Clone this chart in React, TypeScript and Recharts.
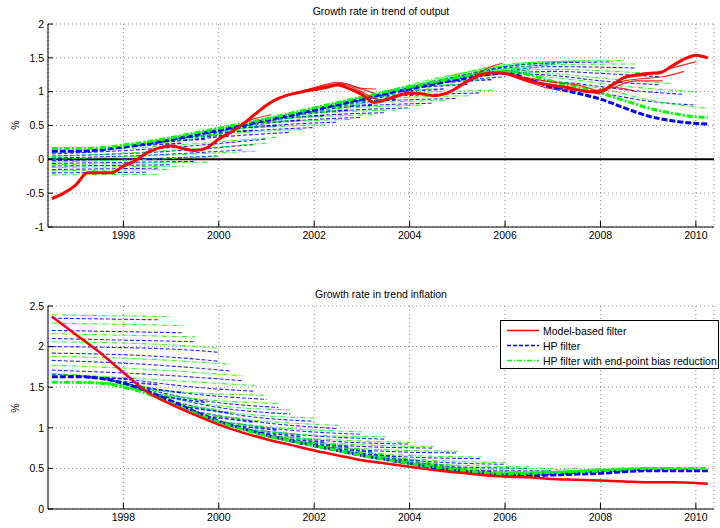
import { LineChart, Line, XAxis, YAxis, CartesianGrid, ReferenceLine, Legend } from 'recharts';

type Pt = [number, number];

const years = [1998, 2000, 2002, 2004, 2006, 2008, 2010];
const outputTicks = [-1, -0.5, 0, 0.5, 1, 1.5, 2];
const inflationTicks = [0, 0.5, 1, 1.5, 2, 2.5];

// ---- growth rate in trend of output ----
const outputModel: Pt[] = [
  [1996.5, -0.58], [1996.75, -0.5], [1997, -0.38], [1997.25, -0.2], [1997.5, -0.2], [1997.75, -0.2],
  [1998, -0.1], [1998.25, -0.02], [1998.5, 0.1], [1998.75, 0.17], [1999, 0.2], [1999.25, 0.16],
  [1999.5, 0.13], [1999.75, 0.17], [2000, 0.3], [2000.25, 0.4], [2000.5, 0.52], [2000.75, 0.66],
  [2001, 0.8], [2001.25, 0.9], [2001.5, 0.96], [2001.75, 1.0], [2002, 1.03], [2002.25, 1.06],
  [2002.5, 1.1], [2002.75, 1.04], [2003, 0.96], [2003.25, 0.84], [2003.5, 0.88], [2003.75, 0.94],
  [2004, 0.98], [2004.25, 0.97], [2004.5, 0.94], [2004.75, 0.97], [2005, 1.06], [2005.25, 1.17],
  [2005.5, 1.25], [2005.75, 1.28], [2006, 1.27], [2006.25, 1.22], [2006.5, 1.16], [2006.75, 1.12],
  [2007, 1.09], [2007.25, 1.07], [2007.5, 1.03], [2007.75, 1.0], [2008, 1.0], [2008.25, 1.1],
  [2008.5, 1.21], [2008.75, 1.25], [2009, 1.27], [2009.25, 1.28], [2009.5, 1.38], [2009.75, 1.48],
  [2010, 1.54], [2010.25, 1.5],
];

const outputHp: Pt[] = [
  [1996.5, 0.12], [1997, 0.12], [1997.5, 0.14], [1998, 0.18], [1998.5, 0.23], [1999, 0.29],
  [1999.5, 0.36], [2000, 0.43], [2000.5, 0.5], [2001, 0.58], [2001.5, 0.65], [2002, 0.73],
  [2002.5, 0.81], [2003, 0.89], [2003.5, 0.97], [2004, 1.04], [2004.5, 1.11], [2005, 1.18],
  [2005.5, 1.24], [2006, 1.27], [2006.5, 1.18], [2007, 1.06], [2007.5, 0.98], [2008, 0.89],
  [2008.5, 0.76], [2009, 0.64], [2009.5, 0.57], [2010, 0.53], [2010.25, 0.52],
];

const outputHpBias: Pt[] = [
  [1996.5, 0.16], [1997, 0.16], [1997.5, 0.17], [1998, 0.21], [1998.5, 0.26], [1999, 0.32],
  [1999.5, 0.39], [2000, 0.46], [2000.5, 0.53], [2001, 0.6], [2001.5, 0.68], [2002, 0.76],
  [2002.5, 0.84], [2003, 0.92], [2003.5, 1.0], [2004, 1.07], [2004.5, 1.14], [2005, 1.21],
  [2005.5, 1.27], [2006, 1.3], [2006.5, 1.25], [2007, 1.15], [2007.5, 1.07], [2008, 0.98],
  [2008.5, 0.87], [2009, 0.76], [2009.5, 0.68], [2010, 0.63], [2010.25, 0.62],
];

const outputHpVintages: Pt[][] = [
  [[1996.5, -0.2], [1998.5, -0.19]],
  [[1996.5, -0.15], [1998.75, -0.13]],
  [[1996.5, -0.1], [1999, -0.08]],
  [[1996.5, -0.06], [1999.5, -0.03]],
  [[1996.5, -0.02], [1998.5, 0.01], [2000, 0.05]],
  [[1996.5, 0.02], [1998.5, 0.06], [2000.5, 0.14]],
  [[1996.5, 0.05], [1998.5, 0.1], [2000.75, 0.22]],
  [[1996.5, 0.08], [1998.5, 0.15], [2001, 0.3]],
  [[1998.5, 0.23], [1999.5, 0.3], [2001.5, 0.4]],
  [[1999, 0.29], [2000, 0.38], [2002, 0.47]],
  [[1999.5, 0.36], [2000.5, 0.46], [2002.5, 0.55]],
  [[2000, 0.43], [2001, 0.53], [2003, 0.62]],
  [[2000.5, 0.5], [2001.5, 0.61], [2003.5, 0.69]],
  [[2001, 0.58], [2002, 0.68], [2004, 0.76]],
  [[2001.5, 0.65], [2002.5, 0.76], [2004.5, 0.83]],
  [[2002, 0.73], [2003, 0.84], [2005, 0.9]],
  [[2002.5, 0.81], [2003.5, 0.92], [2005.5, 0.98]],
  [[2003, 0.89], [2004.5, 1.12], [2006, 1.22]],
  [[2003.5, 0.97], [2005, 1.22], [2006.5, 1.32]],
  [[2004, 1.04], [2005.5, 1.3], [2007, 1.4]],
  [[2004.5, 1.11], [2006, 1.37], [2007.5, 1.44]],
  [[2005, 1.18], [2006.5, 1.41], [2008.25, 1.44]],
  [[2005.5, 1.24], [2007, 1.37], [2008.75, 1.35]],
  [[2006, 1.27], [2007, 1.3], [2008, 1.27], [2009.25, 1.22]],
  [[2006, 1.27], [2007, 1.24], [2008, 1.16], [2009.25, 1.1]],
  [[2006.5, 1.18], [2007.5, 1.12], [2008.5, 1.03], [2009.75, 0.96]],
  [[2007, 1.06], [2008, 0.98], [2009, 0.86], [2010, 0.8]],
];

// short vintages just below the rising HP estimate (the "ladder")
const outputHpRungs: Pt[][] = [
  [[1998.25, 0.2], [1999.25, 0.24]],
  [[1998.75, 0.26], [1999.75, 0.3]],
  [[1999.25, 0.32], [2000.25, 0.36]],
  [[1999.75, 0.39], [2000.75, 0.43]],
  [[2000.25, 0.46], [2001.25, 0.5]],
  [[2000.75, 0.54], [2001.75, 0.58]],
  [[2001.25, 0.61], [2002.25, 0.65]],
  [[2001.75, 0.69], [2002.75, 0.73]],
  [[2002.25, 0.77], [2003.25, 0.81]],
  [[2002.75, 0.85], [2003.75, 0.89]],
  [[2003.25, 0.93], [2004.25, 0.97]],
  [[2003.75, 1.0], [2004.75, 1.04]],
  [[2004.25, 1.07], [2005.25, 1.11]],
  [[2004.75, 1.14], [2005.75, 1.18]],
];

const outputHpBiasVintages: Pt[][] = [
  [[1996.5, -0.23], [1998.75, -0.22]],
  [[1996.5, -0.17], [1999, -0.15]],
  [[1996.5, -0.12], [1999.25, -0.1]],
  [[1996.5, -0.08], [1999.75, -0.04]],
  [[1996.5, -0.04], [1998.5, 0.0], [2000, 0.04]],
  [[1996.5, 0.0], [1998.5, 0.05], [2000.75, 0.12]],
  [[1996.5, 0.04], [1998.5, 0.11], [2001, 0.24]],
  [[1996.5, 0.1], [1998.5, 0.18], [2001.25, 0.33]],
  [[1998.5, 0.26], [1999.5, 0.34], [2001.75, 0.44]],
  [[1999, 0.32], [2000, 0.42], [2002.25, 0.51]],
  [[1999.5, 0.39], [2000.5, 0.5], [2002.75, 0.59]],
  [[2000, 0.46], [2001, 0.57], [2003.25, 0.66]],
  [[2000.5, 0.53], [2001.5, 0.65], [2003.75, 0.73]],
  [[2001, 0.6], [2002, 0.72], [2004.25, 0.8]],
  [[2001.5, 0.68], [2002.5, 0.8], [2004.75, 0.87]],
  [[2002, 0.76], [2003, 0.88], [2005.25, 0.94]],
  [[2002.5, 0.84], [2003.5, 0.96], [2005.75, 1.02]],
  [[2003, 0.92], [2004.5, 1.15], [2006.25, 1.27]],
  [[2003.5, 1.0], [2005, 1.26], [2006.75, 1.36]],
  [[2004, 1.07], [2005.5, 1.33], [2007.25, 1.43]],
  [[2004.5, 1.14], [2006, 1.4], [2007.75, 1.46]],
  [[2005, 1.21], [2006.5, 1.43], [2008.5, 1.46]],
  [[2005.5, 1.27], [2007, 1.4], [2008.75, 1.41]],
  [[2006, 1.3], [2007, 1.33], [2008, 1.31], [2009.25, 1.26]],
  [[2006, 1.3], [2007, 1.27], [2008, 1.2], [2009.5, 1.12]],
  [[2006.5, 1.25], [2007.5, 1.17], [2008.5, 1.08], [2010, 1.0]],
  [[2007, 1.15], [2008, 1.05], [2009, 0.88], [2010.25, 0.75]],
];

const outputHpBiasRungs: Pt[][] = [
  [[1998, 0.21], [1999, 0.25]],
  [[1998.5, 0.26], [1999.5, 0.3]],
  [[1999, 0.32], [2000, 0.36]],
  [[1999.5, 0.39], [2000.5, 0.43]],
  [[2000, 0.46], [2001, 0.5]],
  [[2000.5, 0.53], [2001.5, 0.57]],
  [[2001, 0.6], [2002, 0.64]],
  [[2001.5, 0.68], [2002.5, 0.72]],
  [[2002, 0.76], [2003, 0.8]],
  [[2002.5, 0.84], [2003.5, 0.88]],
  [[2003, 0.92], [2004, 0.96]],
  [[2003.5, 1.0], [2004.5, 1.04]],
  [[2004, 1.07], [2005, 1.11]],
  [[2004.5, 1.14], [2005.5, 1.18]],
];

const outputModelVintages: Pt[][] = [
  [[2000.25, 0.4], [2000.6, 0.56], [2001.1, 0.66]],
  [[2001.5, 0.96], [2002, 1.06], [2002.5, 1.14], [2002.9, 1.06], [2003.25, 0.98]],
  [[2001.5, 0.96], [2002, 1.05], [2002.5, 1.12], [2003, 1.0], [2003.25, 0.9]],
  [[2001.75, 1.0], [2002.25, 1.08], [2002.6, 1.12], [2003, 1.05], [2003.3, 1.04]],
  [[2002, 1.03], [2002.5, 1.1], [2003, 0.95], [2003.4, 0.88]],
  [[2005.25, 1.17], [2005.6, 1.34], [2005.95, 1.42]],
  [[2006, 1.27], [2006.5, 1.2], [2007, 1.14], [2007.5, 1.1], [2007.9, 1.02]],
  [[2006, 1.27], [2006.5, 1.14], [2007, 1.04], [2007.5, 1.02], [2008, 0.96]],
  [[2007.8, 1.0], [2008.3, 1.06], [2008.75, 1.0]],
  [[2008, 1.0], [2008.5, 1.2], [2009, 1.25], [2009.5, 1.35], [2010, 1.44]],
  [[2008, 1.0], [2008.5, 1.16], [2009, 1.2], [2009.3, 1.22], [2009.75, 1.3]],
  [[2008.25, 1.05], [2008.75, 1.16], [2009.3, 1.16]],
];

// ---- growth rate in trend inflation ----
const inflationModel: Pt[] = [
  [1996.5, 2.37], [1997, 2.15], [1997.5, 1.93], [1998, 1.68], [1998.5, 1.44], [1999, 1.29],
  [1999.5, 1.16], [2000, 1.04], [2000.5, 0.94], [2001, 0.86], [2001.5, 0.79], [2002, 0.72],
  [2002.5, 0.66], [2003, 0.6], [2003.5, 0.56], [2004, 0.52], [2004.5, 0.48], [2005, 0.45],
  [2005.5, 0.42], [2006, 0.4], [2006.5, 0.39], [2007, 0.37], [2007.5, 0.36], [2008, 0.35],
  [2008.5, 0.34], [2009, 0.33], [2009.5, 0.33], [2010, 0.32], [2010.25, 0.31],
];

const inflationHp: Pt[] = [
  [1996.5, 1.63], [1997, 1.63], [1997.5, 1.61], [1998, 1.55], [1998.5, 1.45], [1999, 1.33],
  [1999.5, 1.2], [2000, 1.08], [2000.5, 0.99], [2001, 0.91], [2001.5, 0.84], [2002, 0.78],
  [2002.5, 0.72], [2003, 0.66], [2003.5, 0.61], [2004, 0.56], [2004.5, 0.51], [2005, 0.47],
  [2005.5, 0.43], [2006, 0.41], [2006.5, 0.41], [2007, 0.42], [2007.5, 0.43], [2008, 0.44],
  [2008.5, 0.46], [2009, 0.47], [2009.5, 0.47], [2010, 0.47], [2010.25, 0.47],
];

const inflationHpBias: Pt[] = [
  [1996.5, 1.56], [1997, 1.56], [1997.5, 1.55], [1998, 1.5], [1998.5, 1.42], [1999, 1.3],
  [1999.5, 1.18], [2000, 1.07], [2000.5, 0.98], [2001, 0.9], [2001.5, 0.84], [2002, 0.78],
  [2002.5, 0.72], [2003, 0.66], [2003.5, 0.61], [2004, 0.56], [2004.5, 0.52], [2005, 0.48],
  [2005.5, 0.45], [2006, 0.43], [2006.5, 0.44], [2007, 0.45], [2007.5, 0.46], [2008, 0.47],
  [2008.5, 0.49], [2009, 0.5], [2009.5, 0.5], [2010, 0.5], [2010.25, 0.5],
];

const inflationHpVintages: Pt[][] = [
  [[1996.5, 2.35], [1998.75, 2.33]],
  [[1996.5, 2.2], [1999.25, 2.17]],
  [[1996.5, 2.1], [1999.5, 2.06]],
  [[1996.5, 2.0], [1999, 1.97], [2000, 1.93]],
  [[1996.5, 1.92], [1999, 1.87], [2000, 1.82]],
  [[1996.5, 1.83], [1998.5, 1.78], [2000.25, 1.7]],
  [[1996.5, 1.71], [1998.5, 1.66], [2000.5, 1.58]],
  [[1996.5, 1.66], [1998, 1.6], [1999.5, 1.5], [2000.75, 1.45]],
  [[1997.5, 1.61], [1999, 1.45], [2001, 1.35]],
  [[1998, 1.55], [1999.5, 1.35], [2001.25, 1.25]],
  [[1998.5, 1.45], [2000, 1.25], [2001.5, 1.17]],
  [[1999, 1.33], [2000.5, 1.15], [2002, 1.08]],
  [[1999.5, 1.2], [2001, 1.06], [2002.5, 0.99]],
  [[2000, 1.08], [2001.5, 0.97], [2003, 0.92]],
  [[2000.5, 0.99], [2002, 0.9], [2003.5, 0.86]],
  [[2001, 0.91], [2002.5, 0.83], [2004, 0.8]],
  [[2001.5, 0.84], [2003, 0.77], [2004.5, 0.75]],
  [[2002, 0.78], [2003.5, 0.71], [2005, 0.69]],
  [[2002.5, 0.72], [2004, 0.64], [2005.5, 0.62]],
  [[2003, 0.66], [2004.5, 0.58], [2006, 0.55]],
  [[2003.5, 0.61], [2005, 0.52], [2006.5, 0.5]],
  [[2004, 0.56], [2005.5, 0.47], [2007, 0.47]],
  [[2004.5, 0.51], [2006, 0.44], [2007.5, 0.47]],
  [[2005, 0.47], [2006.5, 0.43], [2008, 0.48]],
  [[2005.5, 0.43], [2007, 0.44], [2008.5, 0.49]],
  [[2006, 0.41], [2007.5, 0.45], [2009, 0.5]],
  [[2006.5, 0.41], [2008, 0.46], [2009.5, 0.5]],
  [[2007, 0.42], [2008.5, 0.47], [2010, 0.49]],
];

// short vintages just above the falling HP estimate
const inflationHpRungs: Pt[][] = [
  [[1997.25, 1.62], [1998.25, 1.6]],
  [[1997.75, 1.58], [1998.75, 1.53]],
  [[1998.25, 1.5], [1999.25, 1.43]],
  [[1998.75, 1.39], [1999.75, 1.31]],
  [[1999.25, 1.26], [2000.25, 1.18]],
  [[1999.75, 1.14], [2000.75, 1.07]],
  [[2000.25, 1.03], [2001.25, 0.97]],
  [[2000.75, 0.95], [2001.75, 0.89]],
  [[2001.25, 0.87], [2002.25, 0.82]],
  [[2001.75, 0.81], [2002.75, 0.76]],
  [[2002.25, 0.75], [2003.25, 0.7]],
  [[2002.75, 0.69], [2003.75, 0.64]],
  [[2003.25, 0.63], [2004.25, 0.59]],
  [[2003.75, 0.58], [2004.75, 0.54]],
  [[2004.25, 0.53], [2005.25, 0.5]],
  [[2004.75, 0.49], [2005.75, 0.46]],
];

const inflationHpBiasVintages: Pt[][] = [
  [[1996.5, 2.39], [1999, 2.37]],
  [[1996.5, 2.29], [1999.25, 2.26]],
  [[1996.5, 2.16], [1999.5, 2.12]],
  [[1996.5, 2.06], [1999, 2.02], [2000, 1.98]],
  [[1996.5, 1.88], [1999, 1.83], [2000.25, 1.78]],
  [[1996.5, 1.77], [1998.5, 1.72], [2000.5, 1.64]],
  [[1996.5, 1.67], [1998.5, 1.6], [2000.75, 1.52]],
  [[1997.5, 1.55], [1999, 1.45], [2001, 1.4]],
  [[1998, 1.5], [1999.5, 1.36], [2001.25, 1.3]],
  [[1998.5, 1.42], [2000, 1.27], [2001.5, 1.22]],
  [[1999, 1.3], [2000.5, 1.17], [2002, 1.12]],
  [[1999.5, 1.18], [2001, 1.08], [2002.5, 1.03]],
  [[2000, 1.07], [2001.5, 0.99], [2003, 0.95]],
  [[2000.5, 0.98], [2002, 0.91], [2003.5, 0.89]],
  [[2001, 0.9], [2002.5, 0.85], [2004, 0.82]],
  [[2001.5, 0.84], [2003, 0.79], [2004.5, 0.77]],
  [[2002, 0.78], [2003.5, 0.73], [2005, 0.71]],
  [[2002.5, 0.72], [2004, 0.66], [2005.5, 0.64]],
  [[2003, 0.66], [2004.5, 0.6], [2006, 0.57]],
  [[2003.5, 0.61], [2005, 0.54], [2006.5, 0.52]],
  [[2004, 0.56], [2005.5, 0.49], [2007, 0.5]],
  [[2004.5, 0.51], [2006, 0.46], [2007.5, 0.5]],
  [[2005, 0.47], [2006.5, 0.45], [2008, 0.5]],
  [[2005.5, 0.44], [2007, 0.46], [2008.5, 0.51]],
  [[2006, 0.42], [2007.5, 0.47], [2009, 0.51]],
  [[2006.5, 0.42], [2008, 0.48], [2009.5, 0.51]],
  [[2007, 0.43], [2008.5, 0.49], [2010, 0.5]],
];

const inflationHpBiasRungs: Pt[][] = [
  [[1997, 1.56], [1998, 1.55]],
  [[1997.5, 1.55], [1998.5, 1.51]],
  [[1998, 1.5], [1999, 1.44]],
  [[1998.5, 1.42], [1999.5, 1.35]],
  [[1999, 1.3], [2000, 1.22]],
  [[1999.5, 1.18], [2000.5, 1.11]],
  [[2000, 1.07], [2001, 1.01]],
  [[2000.5, 0.98], [2001.5, 0.93]],
  [[2001, 0.9], [2002, 0.85]],
  [[2001.5, 0.84], [2002.5, 0.79]],
  [[2002, 0.78], [2003, 0.73]],
  [[2002.5, 0.72], [2003.5, 0.67]],
  [[2003, 0.66], [2004, 0.62]],
  [[2003.5, 0.61], [2004.5, 0.57]],
  [[2004, 0.56], [2005, 0.53]],
  [[2004.5, 0.52], [2005.5, 0.49]],
];

const RED = '#ff0000';
const BLUE = '#0000ff';
const GREEN = '#00ff00';
const FONT = '"Liberation Sans", Arial, Helvetica, sans-serif';
const X_DOMAIN: [number, number] = [1996.42, 2010.38];
const HP_DASH = '4 2';
const BIAS_DASH = '5 2 1 2';

const rows = (pts: Pt[]) => pts.map(([t, v]) => ({ t, v }));

const XTick = ({ x, y, payload }: any) => (
  <g>
    <line x1={x} x2={x} y1={y - 5} y2={y - 11} stroke="#000" />
    <text x={x} y={y} dy="0.71em" textAnchor="middle" fontSize={10.5} fontFamily={FONT} fill="#000">
      {payload.value}
    </text>
  </g>
);

const YTick = ({ x, y, payload }: any) => (
  <g>
    <line x1={x + 4} x2={x + 9} y1={y} y2={y} stroke="#000" />
    <text x={x} y={y} dy="0.355em" textAnchor="end" fontSize={10.5} fontFamily={FONT} fill="#000">
      {payload.value}
    </text>
  </g>
);

function vintageLines(sets: Pt[][], color: string, dash: string, prefix: string, width = 1.1) {
  return sets.map((pts, i) => (
    <Line
      key={`${prefix}${i}`}
      data={rows(pts)}
      dataKey="v"
      type="monotone"
      stroke={color}
      strokeWidth={width}
      strokeOpacity={0.85}
      strokeDasharray={dash}
      dot={false}
      activeDot={false}
      isAnimationActive={false}
    />
  ));
}

function finalLine(pts: Pt[], color: string, dash: string | undefined, width: number) {
  return (
    <Line
      data={rows(pts)}
      dataKey="v"
      type="monotone"
      stroke={color}
      strokeWidth={width}
      strokeDasharray={dash}
      dot={false}
      activeDot={false}
      isAnimationActive={false}
    />
  );
}

const legendItems = [
  { label: 'Model-based filter', color: RED, dash: undefined },
  { label: 'HP filter', color: BLUE, dash: HP_DASH },
  { label: 'HP filter with end-point bias reduction', color: GREEN, dash: BIAS_DASH },
];

const LegendBox = () => (
  <div
    style={{
      width: 217,
      height: 47,
      border: '1.5px solid #000',
      background: '#fff',
      fontFamily: FONT,
      fontSize: 10.5,
      boxSizing: 'content-box',
    }}
  >
    {legendItems.map((item, i) => (
      <div key={item.label} style={{ display: 'flex', alignItems: 'center', height: 15, marginTop: i === 0 ? 2 : 0 }}>
        <svg width={40} height={15} style={{ flex: 'none' }}>
          <line x1={6} x2={38} y1={7.5} y2={7.5} stroke={item.color} strokeWidth={1.5} strokeDasharray={item.dash} />
        </svg>
        <span style={{ marginLeft: 2, whiteSpace: 'nowrap' }}>{item.label}</span>
      </div>
    ))}
  </div>
);

const titleStyle = {
  position: 'absolute' as const,
  left: 0,
  width: 762,
  textAlign: 'center' as const,
  fontSize: 10.5,
  lineHeight: '12px',
};

const pctStyle = (top: number) => ({
  position: 'absolute' as const,
  left: 15,
  top,
  fontSize: 10.5,
  lineHeight: '12px',
  transform: 'translate(-50%, -50%) rotate(-90deg)',
});

export default function App() {
  return (
    <div style={{ position: 'absolute', left: 0, top: 0, width: 720, height: 528, background: '#fff', fontFamily: FONT, overflow: 'hidden' }}>
      <div style={{ ...titleStyle, top: 5 }}>Growth rate in trend of output</div>
      <div style={pctStyle(125)}>%</div>
      <div style={{ position: 'absolute', left: 0, top: 0 }}>
        <LineChart width={720} height={264} margin={{ top: 24, right: 6, bottom: 0, left: 0 }}>
          <CartesianGrid stroke="#888" strokeDasharray="1 3" />
          <XAxis
            dataKey="t"
            type="number"
            domain={X_DOMAIN}
            allowDataOverflow
            ticks={years}
            height={37}
            tickSize={0}
            tickMargin={5}
            tickLine={false}
            tick={<XTick />}
            axisLine={{ stroke: '#000' }}
          />
          <YAxis
            type="number"
            domain={[-1, 2]}
            allowDataOverflow
            ticks={outputTicks}
            width={48}
            tickSize={0}
            tickMargin={4}
            tickLine={false}
            tick={<YTick />}
            axisLine={{ stroke: '#000' }}
          />
          <ReferenceLine y={0} stroke="#000" strokeWidth={2} />
          {vintageLines(outputHpVintages, BLUE, HP_DASH, 'ob')}
          {vintageLines(outputHpBiasVintages, GREEN, BIAS_DASH, 'og')}
          {vintageLines(outputHpRungs, BLUE, HP_DASH, 'obr', 1.6)}
          {vintageLines(outputHpBiasRungs, GREEN, BIAS_DASH, 'ogr', 1.6)}
          {finalLine(outputHp, BLUE, '6 2', 3)}
          {finalLine(outputHpBias, GREEN, '6 2 2 2', 3)}
          {vintageLines(outputModelVintages, RED, '', 'or')}
          {finalLine(outputModel, RED, undefined, 3)}
        </LineChart>
      </div>

      <div style={{ ...titleStyle, top: 288 }}>Growth rate in trend inflation</div>
      <div style={pctStyle(408)}>%</div>
      <div style={{ position: 'absolute', left: 0, top: 264 }}>
        <LineChart width={720} height={264} margin={{ top: 42, right: 6, bottom: 0, left: 0 }}>
          <CartesianGrid stroke="#888" strokeDasharray="1 3" />
          <XAxis
            dataKey="t"
            type="number"
            domain={X_DOMAIN}
            allowDataOverflow
            ticks={years}
            height={19}
            tickSize={0}
            tickMargin={5}
            tickLine={false}
            tick={<XTick />}
            axisLine={{ stroke: '#000' }}
          />
          <YAxis
            type="number"
            domain={[0, 2.5]}
            allowDataOverflow
            ticks={inflationTicks}
            width={48}
            tickSize={0}
            tickMargin={4}
            tickLine={false}
            tick={<YTick />}
            axisLine={{ stroke: '#000' }}
          />
          {vintageLines(inflationHpVintages, BLUE, HP_DASH, 'ib')}
          {vintageLines(inflationHpBiasVintages, GREEN, BIAS_DASH, 'ig')}
          {vintageLines(inflationHpRungs, BLUE, HP_DASH, 'ibr', 1.6)}
          {vintageLines(inflationHpBiasRungs, GREEN, BIAS_DASH, 'igr', 1.6)}
          {finalLine(inflationHp, BLUE, '6 2', 3)}
          {finalLine(inflationHpBias, GREEN, '6 2 2 2', 3)}
          {finalLine(inflationModel, RED, undefined, 2.5)}
          <Legend
            layout="vertical"
            align="center"
            verticalAlign="middle"
            content={<LegendBox />}
            wrapperStyle={{ left: 500, top: 56, width: 220, height: 50 }}
          />
        </LineChart>
      </div>
    </div>
  );
}
